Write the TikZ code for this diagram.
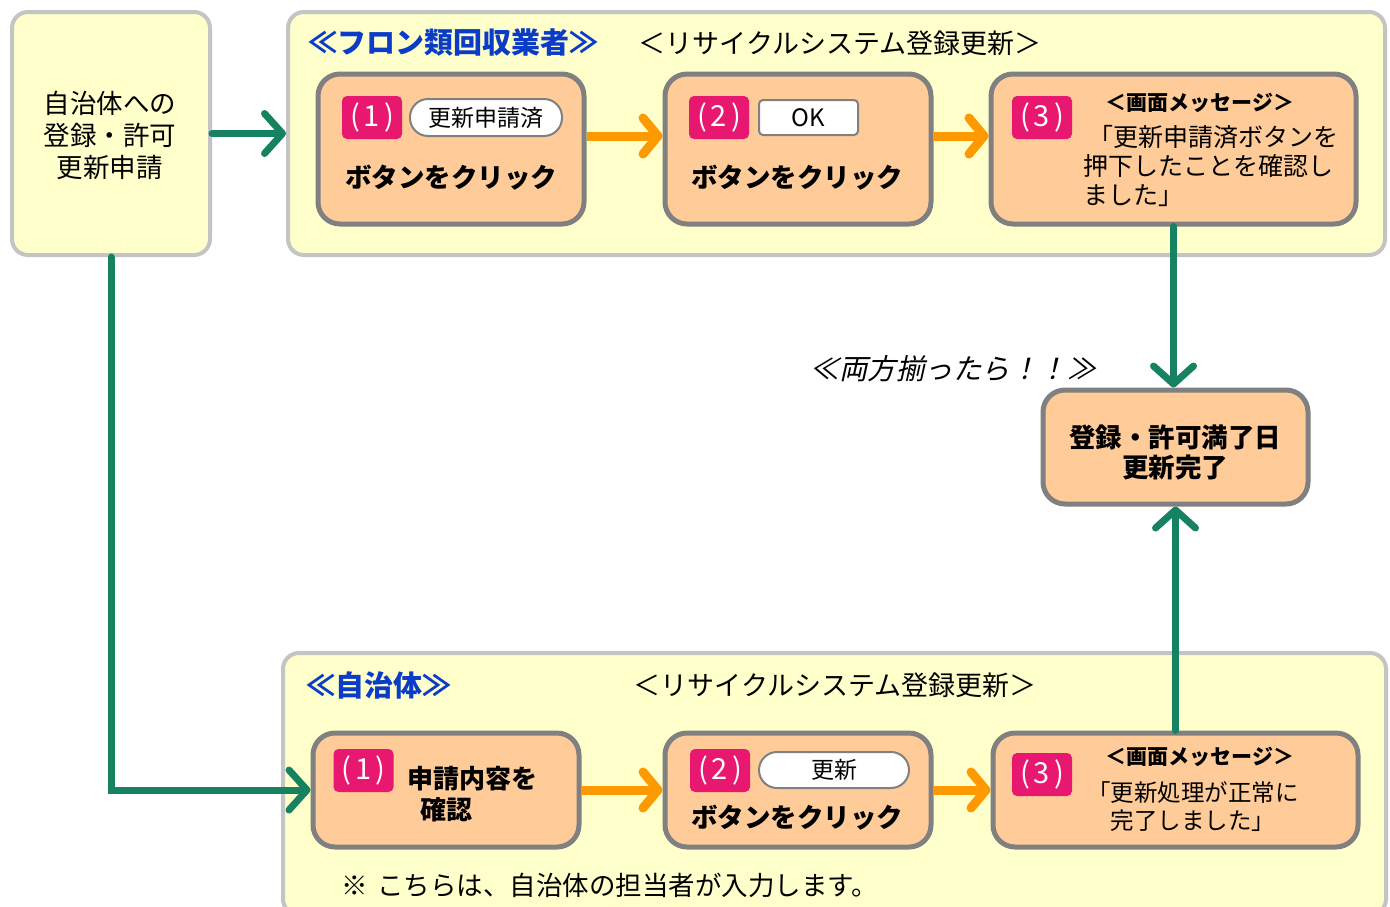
\documentclass[tikz,border=0pt]{standalone}
\usepackage{fontspec}
\setmainfont{Noto Sans CJK JP}
\newfontfamily\jpit{Noto Sans CJK JP}[FakeSlant=0.22]
\usetikzlibrary{arrows.meta}
\definecolor{paleyellow}{HTML}{FFFFCC}
\definecolor{peach}{HTML}{FFCC99}
\definecolor{boxgray}{HTML}{808080}
\definecolor{framegray}{HTML}{C4C4C4}
\definecolor{flowgreen}{HTML}{168262}
\definecolor{floworange}{HTML}{FF9900}
\definecolor{badgepink}{HTML}{E8176F}
\definecolor{titleblue}{HTML}{0B3CC8}
\newcommand{\fs}[2]{\fontsize{#1}{#2}\selectfont}
\begin{document}
\begin{tikzpicture}[x=1pt,y=-1pt,
  frame/.style={draw=framegray, line width=4pt, fill=paleyellow, rounded corners=16pt, anchor=north west, inner sep=0pt},
  stepbox/.style={draw=boxgray, line width=5pt, fill=peach, rounded corners=22pt, anchor=north west, inner sep=0pt},
  badge/.style={fill=badgepink, rounded corners=5pt, text=white, font=\fs{29}{29}, minimum width=60pt, minimum height=43pt, inner sep=0pt},
  pill/.style={draw=boxgray, fill=white, line width=2pt, rounded corners=18pt, inner sep=0pt, font=\fs{23}{23}},
  okbtn/.style={draw=boxgray, fill=white, line width=2pt, rounded corners=4pt, inner sep=0pt, font=\fs{24}{24}},
  txt/.style={inner sep=0pt, align=center},
  garrow/.style={draw=flowgreen, line width=7pt, line cap=round, -{Straight Barb[length=18pt,width=40pt,line cap=round,line join=round]}},
  oarrow/.style={draw=floworange, line width=9pt, -{Straight Barb[length=15pt,width=36pt,line cap=round,line join=round]}},
]
\useasboundingbox (0,0) rectangle (1390,906);
\fill[white] (0,0) rectangle (1390,906);

% containers (positions offset by half the line width)
\node[frame, minimum width=198pt, minimum height=243pt] (leftbox) at (10,10) {};
\node[frame, minimum width=1097pt, minimum height=243pt] (topframe) at (286,10) {};
\node[frame, minimum width=1103pt, minimum height=262pt] (botframe) at (281,651) {};

\node[txt, font=\fs{26.5}{32}] (lefttxt) at (110,135) {自治体への\\登録・許可\\更新申請};

% top section
\node[txt, font=\fs{29}{29}\bfseries, text=titleblue] (toptitle) at (453,42) {≪フロン類回収業者≫};
\node[txt, font=\fs{27}{27}] (topsub) at (840,43) {＜リサイクルシステム登録更新＞};

\node[stepbox, minimum width=266pt, minimum height=150pt] (a1) at (315.5,71.5) {};
\node[stepbox, minimum width=266pt, minimum height=150pt] (a2) at (662.5,71.5) {};
\node[stepbox, minimum width=365pt, minimum height=150pt] (a3) at (988.5,71.5) {};

\node[badge] (a1badge) at (372,117.5) {(\hspace{4pt}1\hspace{4pt})};
\node[pill, minimum width=152pt, minimum height=37pt] (a1pill) at (486,117.5) {更新申請済};
\node[txt, font=\fs{26.5}{26.5}\bfseries] (a1txt) at (451,178) {ボタンをクリック};

\node[badge] (a2badge) at (719,117.5) {(\hspace{4pt}2\hspace{4pt})};
\node[okbtn, minimum width=99pt, minimum height=35pt] (a2ok) at (808.5,117.5) {OK};
\node[txt, font=\fs{26.5}{26.5}\bfseries] (a2txt) at (797,178) {ボタンをクリック};

\node[badge] (a3badge) at (1042,117.5) {(\hspace{4pt}3\hspace{4pt})};
\node[txt, font=\fs{21}{21}\bfseries] (a3head) at (1200,103) {＜画面メッセージ＞};
\node[txt, align=left, anchor=west, font=\fs{25}{29}] (a3msg) at (1083,166) {\hspace{5pt}「更新申請済ボタンを\\押下したことを確認し\\ました」};

% completion
\node[txt, font=\jpit\fs{28.5}{28.5}] (both) at (953,369) {≪両方揃ったら！！≫};
\node[stepbox, minimum width=265pt, minimum height=114pt] (done) at (1040.5,387.5) {};
\node[txt, font=\fs{26.5}{30}\bfseries] (donetxt) at (1175,452) {登録・許可満了日\\更新完了};

% bottom section
\node[txt, font=\fs{29}{29}\bfseries, text=titleblue] (bottitle) at (379,685) {≪自治体≫};
\node[txt, font=\fs{27}{27}] (botsub) at (835,685) {＜リサイクルシステム登録更新＞};

\node[stepbox, minimum width=266pt, minimum height=114pt] (b1) at (310.5,730.5) {};
\node[stepbox, minimum width=266pt, minimum height=114pt] (b2) at (662.5,730.5) {};
\node[stepbox, minimum width=365pt, minimum height=114pt] (b3) at (990.5,730.5) {};

\node[badge] (b1badge) at (363.5,770.5) {(\hspace{4pt}1\hspace{4pt})};
\node[txt, font=\fs{26}{26}\bfseries] (b1txta) at (472,779) {申請内容を};
\node[txt, font=\fs{26}{26}\bfseries] (b1txtb) at (446,810) {確認};

\node[badge] (b2badge) at (720,770.5) {(\hspace{4pt}2\hspace{4pt})};
\node[pill, minimum width=150pt, minimum height=36pt] (b2pill) at (834,770) {更新};
\node[txt, font=\fs{26.5}{26.5}\bfseries] (b2txt) at (797,818) {ボタンをクリック};

\node[badge] (b3badge) at (1042,774.5) {(\hspace{4pt}3\hspace{4pt})};
\node[txt, font=\fs{21}{21}\bfseries] (b3head) at (1200,757) {＜画面メッセージ＞};
\node[txt, font=\fs{23.5}{28}] (b3msg) at (1193,807) {「更新処理が正常に\\完了しました」};

\node[txt, font=\fs{26.5}{26.5}] (note) at (610,885) {※\hspace{9pt}こちらは、自治体の担当者が入力します。};

% connectors
\draw[garrow] (leftbox.east) -- (topframe.west);
\draw[garrow] (leftbox.south) |- (b1.west);
\draw[oarrow] ([yshift=13pt]a1.east) -- ([yshift=13pt]a2.west);
\draw[oarrow] ([yshift=13pt]a2.east) -- ([yshift=13pt]a3.west);
\draw[oarrow] (b1.east) -- (b2.west);
\draw[oarrow] (b2.east) -- (b3.west);
\draw[garrow] (a3.south) -- (a3.south |- done.north);
\draw[garrow] (b3.north) -- (b3.north |- done.south);
\end{tikzpicture}
\end{document}
